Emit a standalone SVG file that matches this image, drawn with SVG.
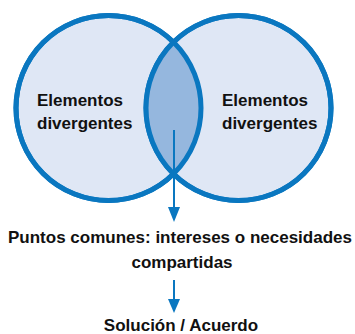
<svg xmlns="http://www.w3.org/2000/svg" width="355" height="334" viewBox="0 0 355 334">
<defs>
<style>
.c{fill:#dfe7f5;stroke:#0a77c0;stroke-width:5}
.t{font-family:"Liberation Sans",Arial,sans-serif;font-weight:bold;font-size:17px;fill:#111}
.a{stroke:#0a77c0;stroke-width:2;fill:none}
.h{fill:#0a77c0}
</style>
<clipPath id="cl"><circle cx="108.5" cy="108" r="92.5"/></clipPath>
</defs>
<rect width="355" height="334" fill="#fff"/>
<g id="left">
<circle class="c" cx="108.5" cy="108" r="92.5"/>
</g>
<g id="right">
<circle class="c" cx="238.5" cy="108" r="92.5"/>
</g>
<g id="lens">
<circle cx="238.5" cy="108" r="92.5" fill="#95b7de" clip-path="url(#cl)"/>
<circle cx="108.5" cy="108" r="92.5" fill="none" stroke="#0a77c0" stroke-width="5"/>
<circle cx="238.5" cy="108" r="92.5" fill="none" stroke="#0a77c0" stroke-width="5"/>
</g>
<g id="left-label">
<text class="t" x="37" y="106">Elementos</text>
<text class="t" x="37" y="129">divergentes</text>
</g>
<g id="right-label">
<text class="t" x="222" y="106">Elementos</text>
<text class="t" x="222" y="129">divergentes</text>
</g>
<g id="connectors">
<line class="a" x1="174" y1="130" x2="174" y2="209"/>
<polygon class="h" points="168,207 180,207 174,222"/>
<line class="a" x1="174" y1="280" x2="174" y2="301"/>
<polygon class="h" points="168,299 180,299 174,313"/>
</g>
<g id="common">
<text class="t" x="180" y="243" text-anchor="middle" textLength="344" lengthAdjust="spacingAndGlyphs">Puntos comunes: intereses o necesidades</text>
<text class="t" x="182" y="268" text-anchor="middle">compartidas</text>
</g>
<g id="solution">
<text class="t" x="181" y="331" text-anchor="middle">Solución / Acuerdo</text>
</g>
</svg>
